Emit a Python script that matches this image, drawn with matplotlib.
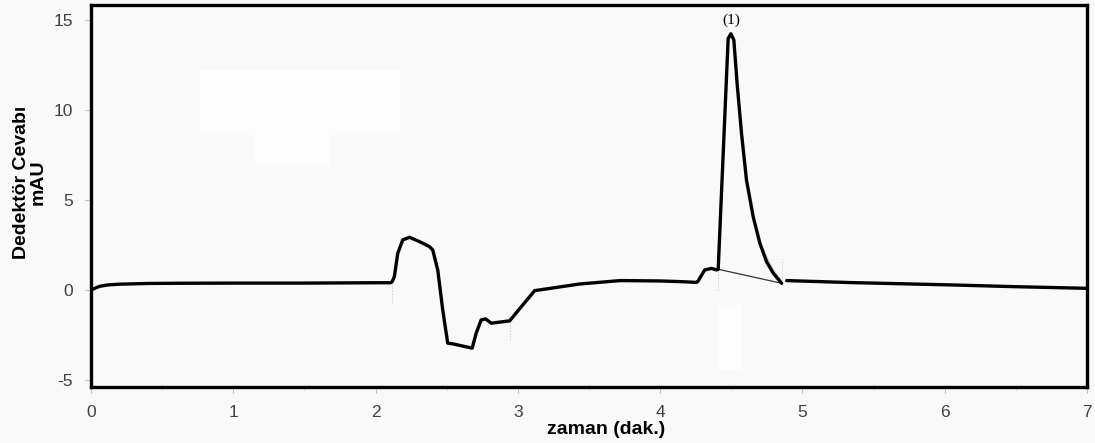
import matplotlib.pyplot as plt
from matplotlib.patches import Rectangle

plt.rcParams["axes.unicode_minus"] = False

# Chromatogram trace (time in min, response in mAU)
time_main = [0.0, 0.03, 0.06, 0.12, 0.2, 0.4, 0.6, 1.0, 1.5, 2.0, 2.105,
             2.116, 2.132, 2.156, 2.191, 2.238, 2.308, 2.379, 2.402, 2.437,
             2.472, 2.507, 2.543, 2.679, 2.707, 2.742, 2.773, 2.813, 2.942,
             3.118, 3.434, 3.72, 4.0, 4.15, 4.255, 4.264, 4.313, 4.361,
             4.396, 4.408, 4.478, 4.497, 4.518, 4.541, 4.572, 4.607, 4.654,
             4.701, 4.748, 4.795, 4.854]
signal_main = [0.0, 0.1, 0.2, 0.28, 0.32, 0.36, 0.37, 0.38, 0.38, 0.4, 0.4,
               0.45, 0.74, 2.04, 2.78, 2.93, 2.69, 2.41, 2.22, 1.11,
               -1.11, -2.96, -3.0, -3.24, -2.41, -1.67, -1.61, -1.85, -1.72,
               -0.04, 0.33, 0.52, 0.5, 0.46, 0.42, 0.46, 1.11, 1.2,
               1.11, 1.15, 13.98, 14.25, 13.9, 11.48, 8.7, 6.1, 4.07,
               2.59, 1.57, 0.93, 0.37]

time_after = [4.889, 5.334, 6.04, 6.5, 7.0]
signal_after = [0.52, 0.41, 0.28, 0.18, 0.09]

# faint secondary trace along the peak tail
time_shadow = [4.545, 4.575, 4.61, 4.66, 4.72, 4.79, 4.85]
signal_shadow = [11.3, 8.5, 5.9, 3.9, 2.3, 1.2, 0.5]

# integration baseline under peak (1)
base_t = [4.408, 4.854]
base_s = [1.15, 0.37]

# event markers
marker_t = [2.116, 2.942, 4.408, 4.854]
marker_lo = [-0.7, -2.8, 0.0, 0.37]
marker_hi = [0.4, -1.72, 1.15, 1.7]

peak_label = "(1)"
peak_t, peak_s = 4.497, 14.25

xticks = [0, 1, 2, 3, 4, 5, 6, 7]
yticks = [-5, 0, 5, 10, 15]

bg = "#f9f9f9"
fig = plt.figure(figsize=(10.95, 4.43), dpi=100, facecolor=bg)
ax = fig.add_axes([0.0831, 0.1264, 0.9096, 0.8623], facecolor=bg)

# lighter patches in the background
for (x0, y0, w, h) in [(200, 70, 200, 65), (255, 135, 75, 30), (718, 305, 24, 65)]:
    fig.patches.append(Rectangle((x0 / 1095, 1 - (y0 + h) / 443), w / 1095, h / 443,
                                 transform=fig.transFigure, facecolor="#fdfdfd",
                                 edgecolor="none", zorder=0.5))

for t, lo, hi in zip(marker_t, marker_lo, marker_hi):
    ax.plot([t, t], [lo, hi], color="#c8c8c8", lw=0.8, ls=":", zorder=1)
ax.plot(time_shadow, signal_shadow, color="#cfcfcf", lw=1.0, zorder=1)
ax.plot(base_t, base_s, color="#333333", lw=0.9, zorder=2)
ax.plot(time_main, signal_main, color="black", lw=2.4, zorder=3,
        solid_joinstyle="round", solid_capstyle="round")
ax.plot(time_after, signal_after, color="black", lw=2.4, zorder=3,
        solid_capstyle="round")

ax.text(peak_t, peak_s + 0.35, peak_label, ha="center", va="bottom",
        fontsize=11, family="Liberation Serif")

ax.set_xlim(0, 7)
ax.set_ylim(-5.4, 15.85)
ax.set_xticks(xticks)
ax.set_yticks(yticks)
ax.set_xticks([0.5, 1.5, 2.5, 3.5, 4.5, 5.5, 6.5], minor=True)
ax.tick_params(axis="both", which="major", direction="out", length=4, width=0.8,
               color="#c0c0c0", labelsize=12.5, labelcolor="#404040", pad=9)
ax.tick_params(axis="x", which="minor", direction="out", length=2, width=0.6,
               color="#d0d0d0")
for lab in ax.get_xticklabels() + ax.get_yticklabels():
    lab.set_family("Liberation Sans")
for sp in ax.spines.values():
    sp.set_linewidth(2.4)
    sp.set_color("black")

fig.text(606 / 1095, 1 - 430 / 443, "zaman (dak.)", ha="center", va="center",
         fontsize=14, fontweight="bold", family="Liberation Sans")
fig.text(30 / 1095, 1 - 182 / 443, "Dedektör Cevabı\nmAU", ha="center", va="center",
         rotation=90, fontsize=14, fontweight="bold", family="Liberation Sans",
         multialignment="center", linespacing=1.0)

fig.savefig("out.png", dpi=100, facecolor=bg)
